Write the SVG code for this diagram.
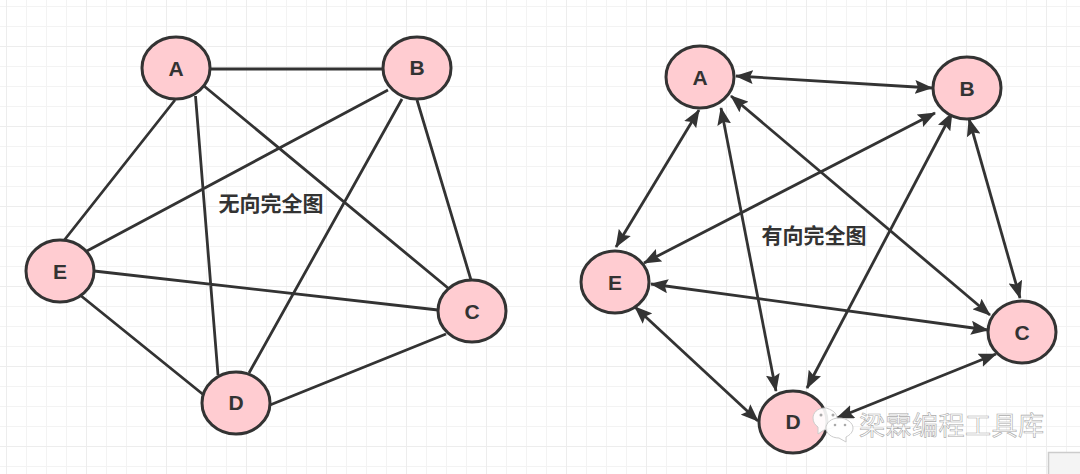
<svg xmlns="http://www.w3.org/2000/svg" width="1080" height="474" viewBox="0 0 1080 474">
<defs>
<pattern id="g" width="20" height="20" patternUnits="userSpaceOnUse" x="6" y="6"><path d="M0 0H20M0 0V20" fill="none" stroke="#f3f3f3" stroke-width="2"/></pattern>
<pattern id="G" width="80" height="80" patternUnits="userSpaceOnUse" x="6" y="46"><path d="M0 0H80M0 0V80" fill="none" stroke="#ededed" stroke-width="2"/></pattern>
<marker id="a" viewBox="0 0 18 14" refX="17" refY="7" markerWidth="18" markerHeight="14" markerUnits="userSpaceOnUse" orient="auto-start-reverse"><path d="M0 0L18 7L0 14L3 7Z" fill="#333"/></marker>
</defs>
<style>
.n{fill:#ffccd1;stroke:#333;stroke-width:3}
.t{font:bold 21px "Liberation Sans",Arial,sans-serif;fill:#333;text-anchor:middle}
.l{stroke:#333;stroke-width:2.800;fill:none}
.d{stroke:#333;stroke-width:2.800;fill:none;marker-start:url(#a);marker-end:url(#a)}
.c{font:bold 21px "Noto Sans CJK SC",sans-serif;fill:#333;text-anchor:middle}
.w{font:26px "Noto Sans CJK SC",sans-serif;fill:#fff;stroke:#aaa;stroke-width:.6;letter-spacing:.5px}
.b{fill:#fff;stroke:#ccc;stroke-width:1;fill-opacity:.9}
.e{fill:#aaa}
</style>
<rect width="1080" height="474" fill="#fff"/>
<rect width="1080" height="474" fill="url(#g)"/>
<rect width="1080" height="474" fill="url(#G)"/>
<rect x="1048.500" y="452.500" width="40" height="30" fill="#f4f4f4" stroke="#ccc" stroke-width="1.500"/>
<g id="connectors">
<path class="l" d="M211 69H383M175 100L62 243M195.500 96L218 375M204 86L448 288M388 90L85 252M402 99L249 373M417 100L471 280M94 271L438 310M80 295L205 396M270 405L446 334"/>
<path class="d" d="M736 76L932 88"/>
<path class="d" d="M699 110L616 247"/>
<path class="d" d="M721 108L776 391"/>
<path class="d" d="M731 96L990 315"/>
<path class="d" d="M952 113L807 388"/>
<path class="d" d="M935 113L644 263"/>
<path class="d" d="M969 119L1020 298"/>
<path class="d" d="M651 284L988 330"/>
<path class="d" d="M635 307L758 421"/>
<path class="d" d="M996 354L837 418"/>
</g>
<g id="left-A"><ellipse class="n" cx="176" cy="68" rx="34" ry="31"/><text class="t" x="176" y="76">A</text></g>
<g id="left-B"><ellipse class="n" cx="417" cy="68" rx="34" ry="31"/><text class="t" x="417" y="75">B</text></g>
<g id="left-C"><ellipse class="n" cx="472" cy="311" rx="34" ry="31"/><text class="t" x="472" y="319">C</text></g>
<g id="left-D"><ellipse class="n" cx="236" cy="403" rx="34" ry="31"/><text class="t" x="236" y="410">D</text></g>
<g id="left-E"><ellipse class="n" cx="60" cy="271" rx="34" ry="31"/><text class="t" x="60" y="279">E</text></g>
<g id="right-A"><ellipse class="n" cx="700" cy="77" rx="34" ry="31"/><text class="t" x="700" y="85">A</text></g>
<g id="right-B"><ellipse class="n" cx="967" cy="88" rx="34" ry="31"/><text class="t" x="967" y="96">B</text></g>
<g id="right-C"><ellipse class="n" cx="1022" cy="332" rx="34" ry="31"/><text class="t" x="1022" y="340">C</text></g>
<g id="right-D"><ellipse class="n" cx="793" cy="422" rx="34" ry="31"/><text class="t" x="793" y="429">D</text></g>
<g id="right-E"><ellipse class="n" cx="615" cy="282" rx="34" ry="31"/><text class="t" x="615" y="290">E</text></g>
<text class="c" x="271" y="211">无向完全图</text>
<text class="c" x="814" y="243">有向完全图</text>
<g id="watermark">
<path class="b" d="M825 408c-8 0-12 5-12 10 0 4 2 7 5 9l0 7 6-4 8-2c6-2 8-14-1-18c-2-1-4-2-6-2Z"/>
<path class="b" d="M839 418c-8 0-13 5-13 10s5 10 13 10l7 4 0-5c4-2 7-5 7-9 0-5-6-10-14-10Z"/>
<circle class="e" cx="821" cy="415" r="1.500"/><circle class="e" cx="833" cy="415" r="1.500"/>
<circle class="e" cx="835" cy="425" r="1.300"/><circle class="e" cx="845" cy="425" r="1.300"/>
<text class="w" x="859" y="435">梁霖编程工具库</text>
</g>
</svg>
